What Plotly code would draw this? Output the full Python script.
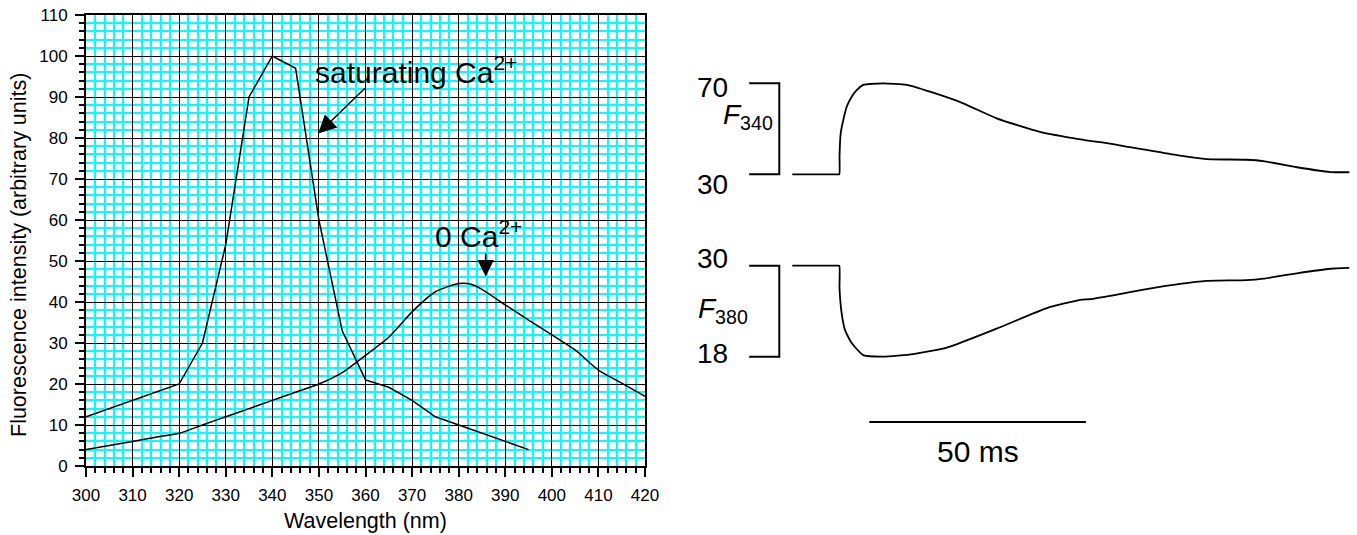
import plotly.graph_objects as go

W, H = 1357, 535

# ---------------- data: excitation spectra ----------------
wavelength_sat = [300, 320, 325, 330, 335, 340, 345, 350, 355, 360, 365, 370, 375, 380, 385, 390, 395]
intensity_sat = [12, 20, 30, 54, 90, 100, 97, 60, 33, 21, 19.2, 16, 12, 10, 8, 6, 4]

wavelength_zero = [300, 305, 310, 315, 320, 325, 330, 335, 340, 345, 350, 355, 360, 365, 370,
                   375, 380, 382.5, 385, 390, 395, 400, 405, 410, 415, 420]
intensity_zero = [4, 5, 6, 7, 8, 10, 12, 14, 16, 18, 20, 22.8, 27, 31.4, 37.6,
                  42.5, 44.5, 44.4, 43.1, 39.3, 35.6, 32, 28.3, 23.4, 20.2, 17]

x_range = [300, 420]
y_range = [0, 110]
major_step = 10
minor_step = 2

# ---------------- data: fluorescence transients ----------------
t_340 = [-10.85, -5, -0.5, 0, 0.05, 0.32, 0.92, 1.71, 2.86, 4.02, 5.54, 10.15, 15.55, 20.93, 28.6,
         36.3, 46.3, 55.6, 63.2, 67.1, 70.9, 78.6, 84.8, 94.0, 97.9, 105.6, 113.3, 117.7]
f_340 = [30, 30, 30, 30, 38, 48, 53.9, 59.7, 64.1, 67, 69.3, 70, 69.3, 66.3, 61.2,
         54.6, 48.7, 45.4, 43.3, 41.9, 40.7, 38.2, 36.7, 36.4, 35.8, 33.1, 31, 30.9]

t_380 = [-10.85, -5, -0.5, 0, 0.05, 0.55, 1.32, 2.86, 5.54, 10.15, 17.07, 24.8, 36.3, 47.9,
         55.6, 57.9, 63.2, 70.9, 78.6, 84.8, 94.0, 97.9, 105.6, 113.3, 117.7]
f_380 = [30, 30, 30, 30, 27.0, 23.7, 21.5, 19.8, 18.2, 18.0, 18.35, 19.2, 21.7, 24.4,
         25.5, 25.6, 26.1, 26.9, 27.6, 28.0, 28.1, 28.3, 29.0, 29.6, 29.7]

scale_340 = [30, 70]
scale_380 = [18, 30]
scalebar_ms = 50

# ---------------- layout helpers (pixel calibration) ----------------
def pxx(p):
    return p / W

def pxy(p):
    return 1 - p / H

FONT = "Liberation Sans, Arial, sans-serif"

# right panel calibration
t0_px, ms_px = 839.3, 4.333
x2_dom_px = (690, 1357)
x2_range = [(x2_dom_px[0] - t0_px) / ms_px, (x2_dom_px[1] - t0_px) / ms_px]

y340_base_px, y340_per = 174.3, 2.275      # px of value 30, px per unit
y2_dom_px = (70, 190)
y2_range = [30 - (y2_dom_px[1] - y340_base_px) / y340_per, 30 + (y340_base_px - y2_dom_px[0]) / y340_per]

y380_base_px, y380_per = 265.7, 7.583
y3_dom_px = (250, 370)
y3_range = [30 - (y3_dom_px[1] - y380_base_px) / y380_per, 30 + (y380_base_px - y3_dom_px[0]) / y380_per]

fig = go.Figure()

fig.add_trace(go.Scatter(x=wavelength_sat, y=intensity_sat, mode="lines",
                         line=dict(color="black", width=1.5), xaxis="x", yaxis="y",
                         showlegend=False))
fig.add_trace(go.Scatter(x=wavelength_zero, y=intensity_zero, mode="lines",
                         line=dict(color="black", width=1.5, shape="spline", smoothing=0.6),
                         xaxis="x", yaxis="y", showlegend=False))

fig.add_trace(go.Scatter(x=t_340, y=f_340, mode="lines",
                         line=dict(color="black", width=1.8, shape="spline", smoothing=0.5),
                         xaxis="x2", yaxis="y2", showlegend=False))
fig.add_trace(go.Scatter(x=t_380, y=f_380, mode="lines",
                         line=dict(color="black", width=1.8, shape="spline", smoothing=0.5),
                         xaxis="x2", yaxis="y3", showlegend=False))

# brackets (vertical scale bars)
bx_in, bx_out = -13.85, -20.8
fig.add_trace(go.Scatter(x=[bx_out, bx_in, bx_in, bx_out],
                         y=[scale_340[1], scale_340[1], scale_340[0], scale_340[0]],
                         mode="lines", line=dict(color="black", width=2),
                         xaxis="x2", yaxis="y2", showlegend=False))
fig.add_trace(go.Scatter(x=[bx_out, bx_in, bx_in, bx_out],
                         y=[scale_380[1], scale_380[1], scale_380[0], scale_380[0]],
                         mode="lines", line=dict(color="black", width=2),
                         xaxis="x2", yaxis="y3", showlegend=False))

# time scale bar
sb_start = 6.92
fig.add_shape(type="line", xref="x2", yref="paper",
              x0=sb_start, x1=sb_start + scalebar_ms, y0=pxy(422), y1=pxy(422),
              line=dict(color="black", width=2))

axis_common = dict(showline=True, linecolor="black", linewidth=2, mirror=True,
                   zeroline=False, ticks="outside", ticklen=9, tickwidth=2, tickcolor="black",
                   showgrid=True, gridcolor="black", gridwidth=1, automargin=False,
                   tickmode="linear", dtick=major_step, ticklabelstandoff=4,
                   tickfont=dict(family=FONT, size=17, color="black"))

minor_common = dict(dtick=minor_step, ticks="outside", ticklen=5, tickwidth=2,
                    tickcolor="black", showgrid=True, gridcolor="#00FFFF", gridwidth=1.6)

hidden = dict(visible=False, automargin=False, showgrid=False, zeroline=False)

fig.update_layout(
    template="none",
    width=W, height=H,
    margin=dict(l=0, r=0, t=0, b=0, pad=0),
    paper_bgcolor="white", plot_bgcolor="white",
    showlegend=False,
    xaxis=dict(domain=[pxx(86), pxx(645)], range=x_range, tick0=x_range[0], anchor="y",
               minor=dict(tick0=x_range[0], **minor_common), **axis_common),
    yaxis=dict(domain=[pxy(466), pxy(15)], range=y_range, tick0=y_range[0], anchor="x",
               minor=dict(tick0=y_range[0], **minor_common), **axis_common),
    xaxis2=dict(domain=[pxx(x2_dom_px[0]), pxx(x2_dom_px[1])], range=x2_range,
                anchor="y2", **hidden),
    yaxis2=dict(domain=[pxy(y2_dom_px[1]), pxy(y2_dom_px[0])], range=y2_range,
                anchor="x2", **hidden),
    yaxis3=dict(domain=[pxy(y3_dom_px[1]), pxy(y3_dom_px[0])], range=y3_range,
                anchor="x2", **hidden),
)

ann = []
# axis titles
ann.append(dict(text="Wavelength (nm)", xref="paper", yref="paper", x=pxx(365.5), y=pxy(521),
                xanchor="center", yanchor="middle", showarrow=False,
                font=dict(family=FONT, size=21.5, color="black")))
ann.append(dict(text="Fluorescence intensity (arbitrary units)", xref="paper", yref="paper",
                x=pxx(19), y=pxy(255), xanchor="center", yanchor="middle", textangle=-90,
                showarrow=False, font=dict(family=FONT, size=21.5, color="black")))

# spectrum labels
ann.append(dict(text="saturating Ca<sup>2+</sup>", xref="x", yref="y", x=348.7, y=96.5,
                xanchor="left", yanchor="middle", showarrow=False,
                font=dict(family=FONT, size=30, color="black")))
ann.append(dict(text="", xref="x", yref="y", x=349.85, y=81.1, axref="x", ayref="y",
                ax=360.2, ay=92.5, showarrow=True, arrowhead=2, arrowsize=2.4,
                arrowwidth=1.5, arrowcolor="black"))
ann.append(dict(text="0 Ca<sup>2+</sup>", xref="x", yref="y", x=374.5, y=56.5,
                xanchor="left", yanchor="middle", showarrow=False,
                font=dict(family=FONT, size=30, color="black")))
ann.append(dict(text="", xref="x", yref="y", x=385.8, y=46.2, axref="x", ayref="y",
                ax=385.8, ay=52.2, showarrow=True, arrowhead=2, arrowsize=2.2,
                arrowwidth=1.5, arrowcolor="black"))

# right panel labels
num_font = dict(family=FONT, size=28, color="black")
for txt, ypx in [("70", 88), ("30", 185), ("30", 258), ("18", 353)]:
    ann.append(dict(text=txt, xref="paper", yref="paper", x=pxx(712.5), y=pxy(ypx),
                    xanchor="center", yanchor="middle", showarrow=False, font=num_font))
ann.append(dict(text="<i>F</i><sub>340</sub>", xref="paper", yref="paper", x=pxx(721),
                y=pxy(117), xanchor="left", yanchor="middle", showarrow=False,
                font=dict(family=FONT, size=28, color="black")))
ann.append(dict(text="<i>F</i><sub>380</sub>", xref="paper", yref="paper", x=pxx(696),
                y=pxy(310), xanchor="left", yanchor="middle", showarrow=False,
                font=dict(family=FONT, size=28, color="black")))
ann.append(dict(text="%d ms" % scalebar_ms, xref="x2", yref="paper", x=sb_start + scalebar_ms / 2,
                y=pxy(451), xanchor="center", yanchor="middle", showarrow=False,
                font=dict(family=FONT, size=30, color="black")))

fig.update_layout(annotations=ann)

fig.write_html("out.html", config={"displayModeBar": False},
               post_script="document.body.style.margin='0px';"
                           "document.body.style.overflow='hidden';")
